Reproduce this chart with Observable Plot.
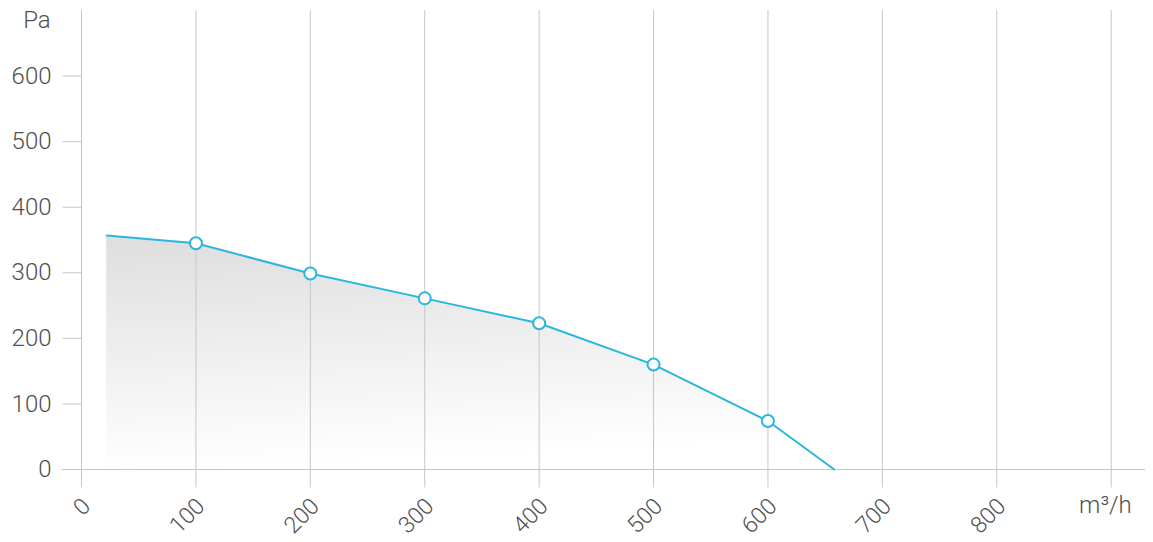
<!DOCTYPE html>
<html>
<head>
<meta charset="utf-8">
<script src="https://cdn.jsdelivr.net/npm/d3@7"></script>
<script src="https://cdn.jsdelivr.net/npm/@observablehq/plot@0.6"></script>
<style>
  html, body { margin: 0; padding: 0; background: #fff; }
  #chart svg { display: block; }
</style>
</head>
<body>
<div id="chart"></div>
<script>
// Data
const flow = [22, 100, 200, 300, 400, 500, 600, 658];          // m³/h
const pressure = [357, 345, 299, 261, 223, 160, 74, 0];        // Pa
const markerFlow = [100, 200, 300, 400, 500, 600];
const markerPressure = [345, 299, 261, 223, 160, 74];
const xTicks = [0, 100, 200, 300, 400, 500, 600, 700, 800];
const xGrid = [0, 100, 200, 300, 400, 500, 600, 700, 800, 900];
const yTicks = [0, 100, 200, 300, 400, 500, 600];
const yLabel = "Pa";
const xLabel = "m³/h";

const curve = flow.map((f, i) => ({flow: f, pressure: pressure[i]}));
const markers = markerFlow.map((f, i) => ({flow: f, pressure: markerPressure[i]}));

const lineColor = "#2ab6de";
const gridColor = "#c6c6c6";
const textColor = "#505050";

const defs = () => {
  const d = d3.create("svg:defs");
  const g = d.append("linearGradient").attr("id", "areaGrad")
    .attr("x1", "0").attr("y1", "0").attr("x2", "0.15").attr("y2", "1");
  g.append("stop").attr("offset", "0%").attr("stop-color", "#dedede");
  g.append("stop").attr("offset", "100%").attr("stop-color", "#ffffff");
  return d.node();
};

const chart = Plot.plot({
  width: 1153,
  height: 542,
  marginTop: 10,
  marginBottom: 73,
  marginLeft: 81,
  marginRight: 8,
  style: {fontFamily: "Roboto", fontSize: "24px", fontWeight: 300, color: textColor, background: "#fff"},
  x: {domain: [0, 930], axis: null},
  y: {domain: [0, 700], axis: null},
  marks: [
    defs,
    Plot.areaY(curve, {x: "flow", y: "pressure", fill: "url(#areaGrad)"}),
    Plot.ruleX(xGrid, {y1: -28, y2: 700, stroke: gridColor, strokeWidth: 1}),
    Plot.ruleY([0], {x1: -17, x2: 930, stroke: gridColor, strokeWidth: 1}),
    Plot.ruleY(yTicks.slice(1), {x1: -16, x2: 0, stroke: gridColor, strokeWidth: 1}),
    Plot.axisY({ticks: yTicks, tickSize: 0, tickPadding: 30, tickFormat: d => String(d), fontSize: 24, fill: textColor, label: null}),
    Plot.axisX({ticks: xTicks, tickSize: 0, tickPadding: 33, dx: 5, tickRotate: -45, tickFormat: d => String(d), fontSize: 23, fill: textColor, label: null}),
    Plot.line(curve, {x: "flow", y: "pressure", stroke: lineColor, strokeWidth: 2}),
    Plot.dot(markers, {x: "flow", y: "pressure", r: 6, fill: "#fff", stroke: lineColor, strokeWidth: 2}),
    Plot.text([yLabel], {x: -39, y: 685, text: d => d, fontSize: 24, fill: textColor}),
    Plot.text([xLabel], {x: 895, y: -55, text: d => d, fontSize: 24, fill: textColor})
  ]
});
document.getElementById("chart").append(chart);
</script>
</body>
</html>
